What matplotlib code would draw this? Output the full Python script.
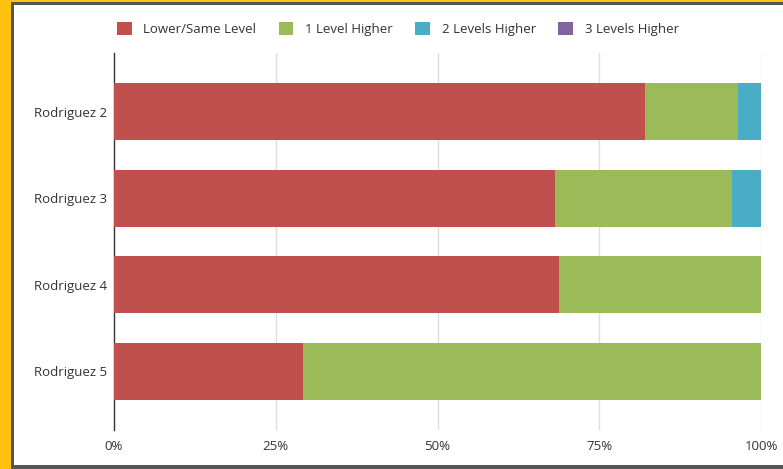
import numpy as np
import matplotlib.pyplot as plt
from matplotlib.patches import Rectangle

# share of students placed at each level, per teacher
teachers = ["Rodriguez 2", "Rodriguez 3", "Rodriguez 4", "Rodriguez 5"]
levels = ["Lower/Same Level", "1 Level Higher", "2 Levels Higher", "3 Levels Higher"]
lower_same = [82.1, 68.2, 68.75, 29.2]
one_higher = [14.3, 27.3, 31.25, 70.8]
two_higher = [3.6, 4.5, 0.0, 0.0]
three_higher = [0.0, 0.0, 0.0, 0.0]
colors = ["#C0504D", "#9BBB59", "#4BACC6", "#8064A2"]

plt.rcParams['font.family'] = ['Open Sans', 'DejaVu Sans']

W, H = 783, 469
fig = plt.figure(figsize=(W / 100, H / 100), dpi=100)
fig.patch.set_facecolor("#FFC20E")

# dark frame and white card
fig.patches.append(Rectangle((11 / W, 0), 1, 1 - 2 / H, transform=fig.transFigure,
                             facecolor="#555555", edgecolor="none", zorder=-2))
fig.patches.append(Rectangle((14 / W, 4 / H), 1, 1 - 9 / H, transform=fig.transFigure,
                             facecolor="white", edgecolor="none", zorder=-1))

ax = fig.add_axes([114 / W, 1 - 430 / H, (761 - 114) / W, (430 - 53) / H])
ax.set_facecolor("none")

y = np.arange(len(teachers))
series = [lower_same, one_higher, two_higher, three_higher]
left = np.zeros(len(teachers))
for name, vals, c in zip(levels, series, colors):
    vals = np.array(vals)
    ax.barh(y, vals, left=left, height=0.66, color=c, label=name, zorder=3)
    left += vals

ax.set_xlim(0, 100)
ax.set_ylim(3.68, -0.68)
ax.set_yticks(y)
ax.set_yticklabels(teachers)
ax.set_xticks([0, 25, 50, 75, 100])
ax.set_xticklabels(["0%", "25%", "50%", "75%", "100%"])
ax.tick_params(length=0, labelsize=9.5, colors="#333333", pad=5)
ax.tick_params(axis="x", pad=7)
for x in [25, 50, 75, 100]:
    ax.axvline(x, color="#dedede", lw=1, zorder=1)
for s in ["top", "right", "bottom"]:
    ax.spines[s].set_visible(False)
ax.spines["left"].set_color("#333333")
ax.spines["left"].set_linewidth(1)

fig.legend(loc="center", bbox_to_anchor=(398 / W, 1 - 29 / H), ncol=4, frameon=False,
           fontsize=9.5, handlelength=1.1, handleheight=1.1, columnspacing=1.7,
           handletextpad=0.9, labelcolor="#333333")

fig.savefig("out.png", dpi=100, facecolor=fig.get_facecolor())
